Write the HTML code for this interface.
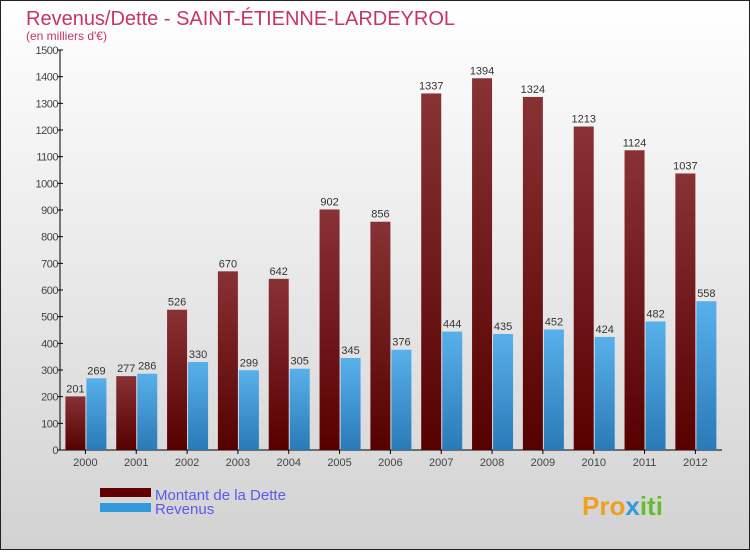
<!DOCTYPE html>
<html><head><meta charset="utf-8"><style>
html,body{margin:0;padding:0}
body{width:750px;height:550px;overflow:hidden;font-family:"Liberation Sans",sans-serif}
</style></head><body>
<svg id="chart" width="750" height="550" xmlns="http://www.w3.org/2000/svg" font-family="Liberation Sans, sans-serif">
<defs>
<linearGradient id="bg" x1="0" y1="0" x2="0" y2="1"><stop offset="0" stop-color="#ffffff"/><stop offset="1" stop-color="#d2d2d2"/></linearGradient>
<linearGradient id="gd" x1="0" y1="0" x2="0" y2="1"><stop offset="0" stop-color="#883235"/><stop offset="1" stop-color="#560000"/></linearGradient>
<linearGradient id="gr" x1="0" y1="0" x2="0" y2="1"><stop offset="0" stop-color="#58b0ea"/><stop offset="1" stop-color="#2a7ab8"/></linearGradient>
</defs>
<rect x="0.5" y="0.5" width="749" height="549" fill="url(#bg)" stroke="#222"/>
<text x="26" y="25" font-size="20" fill="#c8336a">Revenus/Dette - SAINT-ÉTIENNE-LARDEYROL</text>
<text x="26" y="40" font-size="12" fill="#c8336a">(en milliers d'€)</text>
<g id="axes"></g>
<g id="bars"></g>
<rect x="100" y="488" width="51" height="9" fill="#600000"/>
<rect x="100" y="503" width="51" height="9" fill="#3399dd"/>
<text x="155" y="500" font-size="15" fill="#5a5aee">Montant de la Dette</text>
<text x="155" y="514" font-size="15" fill="#5a5aee">Revenus</text>
<text x="582" y="515" font-size="26" font-weight="bold" fill="#f0a020">Pro<tspan fill="#3399dd">x</tspan><tspan fill="#66bb33">iti</tspan></text>
</svg>
<script>
const years=["2000","2001","2002","2003","2004","2005","2006","2007","2008","2009","2010","2011","2012"];
const dette=[201,277,526,670,642,902,856,1337,1394,1324,1213,1124,1037];
const revenus=[269,286,330,299,305,345,376,444,435,452,424,482,558];
const yTicks=[0,100,200,300,400,500,600,700,800,900,1000,1100,1200,1300,1400,1500];
const NS="http://www.w3.org/2000/svg";
const x0=60,y0=450,yTop=50,yMax=1500,step=50.83;
function y(v){return y0-(v/yMax)*(y0-yTop);}
function gx(i){return x0+step*(i+0.5);}
function mk(tag,attrs,parent){const e=document.createElementNS(NS,tag);for(const k in attrs)e.setAttribute(k,attrs[k]);parent.appendChild(e);return e;}
const axes=document.getElementById('axes'),bars=document.getElementById('bars');
let a=mk('line',{x1:x0,y1:yTop,x2:x0,y2:y0,stroke:'#000'},axes);


a=mk('line',{x1:x0,y1:y0,x2:722,y2:y0,stroke:'#000'},axes);


yTicks.forEach(v=>{
 const t=mk('line',{x1:x0-3,y1:y(v),x2:x0+3,y2:y(v),stroke:'#000'},axes);
 
 
 const l=mk('text',{x:x0-2,y:y(v)+4,'font-size':11,fill:'#444','text-anchor':'end','letter-spacing':'-0.5'},axes);
 l.textContent=v;
 
 
});
years.forEach((yr,i)=>{
 const c=gx(i);
 const t=mk('line',{x1:c,y1:y0,x2:c,y2:y0+4,stroke:'#000'},axes);
 
 
 const l=mk('text',{x:c,y:y0+16,'font-size':11,fill:'#444','text-anchor':'middle'},axes);
 l.textContent=yr;
 
 
 const bd=mk('rect',{x:c-20,y:y(dette[i]),width:20,height:y0-y(dette[i]),fill:'url(#gd)'},bars);
 
 
 const br=mk('rect',{x:c+1,y:y(revenus[i]),width:20,height:y0-y(revenus[i]),fill:'url(#gr)'},bars);
 
 
 const vd=mk('text',{x:c-10,y:y(dette[i])-4,'font-size':11,fill:'#333','text-anchor':'middle'},bars);
 vd.textContent=dette[i];
 
 
 const vr=mk('text',{x:c+11,y:y(revenus[i])-4,'font-size':11,fill:'#333','text-anchor':'middle'},bars);
 vr.textContent=revenus[i];
 
 
});
</script>
</body></html>
